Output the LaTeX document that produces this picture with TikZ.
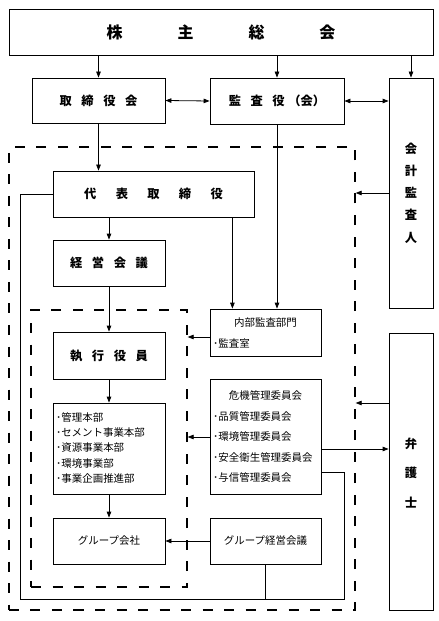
\documentclass[tikz,border=0pt]{standalone}
\usepackage{fontspec}
\setmainfont{Noto Sans CJK JP}
\usetikzlibrary{arrows.meta,calc}
\begin{document}
\begin{tikzpicture}[x=1bp,y=-1bp,
  box/.style={draw, line width=0.8bp, inner sep=0pt, anchor=center},
  dbox/.style={draw, line width=1.3bp, dash pattern=on 10bp off 11.5bp, inner sep=0pt, anchor=center},
  title/.style={font=\fontsize{12.3}{15}\selectfont\bfseries},
  small/.style={font=\fontsize{10.5}{12}\selectfont, inner sep=0pt},
  ln/.style={line width=0.8bp},
  arr/.style={line width=0.8bp, -{Triangle[length=6bp,width=4.5bp]}},
  darr/.style={line width=0.8bp, {Triangle[length=6bp,width=4.5bp]}-{Triangle[length=6bp,width=4.5bp]}}]
\useasboundingbox (0,0) rectangle (439,621);
% dashed frames
\node[dbox, minimum width=346bp, minimum height=463bp] (outer) at (182,378.5) {};
\node[dbox, minimum width=156bp, minimum height=277bp] (inner) at (109,448.5) {};
% boxes
\node[box, minimum width=424bp, minimum height=46bp, font=\fontsize{16}{18}\selectfont\bfseries] (top) at (221,32)
  {株\hspace{3.45em}主\hspace{3.45em}総\hspace{3.45em}会};
\node[box, title, minimum width=133bp, minimum height=45bp] (tor) at (98.5,100.5)
  {取\hspace{.78em}締\hspace{.78em}役\hspace{.78em}会};
\node[box, title, minimum width=134bp, minimum height=46bp] (kan) at (277,101)
  {監\hspace{.78em}査\hspace{.78em}役\hspace{.3em}（会）};
\node[box, minimum width=44bp, minimum height=230bp] (kaikei) at (411,193) {};
\node[align=center, font=\fontsize{12.3}{22.3}\selectfont\bfseries] (kaikeit) at (kaikei.center) {会\\計\\監\\査\\人};
\node[box, minimum width=44bp, minimum height=277bp] (bengo) at (411,471.5) {};
\node[align=center, font=\fontsize{12.3}{30}\selectfont\bfseries] (bengot) at (411,473) {弁\\護\\士};
\node[box, title, minimum width=201bp, minimum height=46bp] (daihyo) at (153.5,194)
  {代\hspace{1.58em}表\hspace{1.58em}取\hspace{1.58em}締\hspace{1.58em}役};
\node[box, title, minimum width=112bp, minimum height=46bp] (keiei) at (109,263)
  {経\hspace{.78em}営\hspace{.78em}会\hspace{.78em}議};
\node[box, title, minimum width=112bp, minimum height=47bp] (shikko) at (109,355.5)
  {執\hspace{.78em}行\hspace{.78em}役\hspace{.78em}員};
\node[box, minimum width=112bp, minimum height=91bp] (list) at (109,448.5) {};
\node[small, anchor=west] (l1) at (56,417) {･管理本部};
\node[small, anchor=west] (l2) at (56,432.5) {･セメント事業本部};
\node[small, anchor=west] (l3) at (56,448) {･資源事業本部};
\node[small, anchor=west] (l4) at (56,463.5) {･環境事業部};
\node[small, anchor=west] (l5) at (56,479) {･事業企画推進部};
\node[box, minimum width=112bp, minimum height=46bp, font=\fontsize{10.5}{12}\selectfont] (group) at (109,541) {グループ会社};
\node[box, minimum width=111bp, minimum height=47bp] (naibu) at (265.5,332.5) {};
\node[small] (n1) at (265.5,323) {内部監査部門};
\node[small, anchor=west] (n2) at (213,343) {･監査室};
\node[box, minimum width=111bp, minimum height=115bp] (kiki) at (265.5,436.5) {};
\node[small] (k0) at (265.5,396) {危機管理委員会};
\node[small, anchor=west] (k1) at (213,416.5) {･品質管理委員会};
\node[small, anchor=west] (k2) at (213,437) {･環境管理委員会};
\node[small, anchor=west] (k3) at (213,457.5) {･安全衛生管理委員会};
\node[small, anchor=west] (k4) at (213,478) {･与信管理委員会};
\node[box, minimum width=111bp, minimum height=46bp, font=\fontsize{10.5}{12}\selectfont] (gkeiei) at (265.5,541) {グループ経営会議};
% connectors
\draw[arr] (top.south -| tor) -- (tor.north);
\draw[arr] (top.south -| kan) -- (kan.north);
\draw[arr] (top.south -| kaikei) -- (kaikei.north);
\draw[darr] (tor.east) -- (kan.west);
\draw[darr] (kan.east) -- (kan.east -| kaikei.west);
\draw[arr] (tor.south) -- (tor.south |- daihyo.north);
\draw[arr] (kan.south) -- (kan.south |- naibu.north);
\coordinate (dr) at ($(daihyo.south east)+(-22,0)$);
\draw[arr] (dr) -- (dr |- naibu.north);
\draw[arr] (daihyo.south -| keiei) -- (keiei.north);
\draw[arr] (keiei.south) -- (shikko.north);
\draw[arr] (shikko.south) -- (list.north);
\draw[arr] (list.south) -- (group.north);
\draw[arr] (gkeiei.west) -- (group.east);
\coordinate (bl) at (20,599);
\coordinate (br) at (344,599);
\draw[ln] (daihyo.west) -- (daihyo.west -| bl) -- (bl) -- (br) -- (br |- 0,472) -- (kiki.east |- 0,472);
\draw[ln] (gkeiei.south) -- (gkeiei.south |- bl);
\draw[arr] (naibu.west |- 0,337) -- (inner.east |- 0,337);
\draw[arr] (kiki.west |- 0,437) -- (inner.east |- 0,437);
\draw[arr] (kaikei.west |- 0,193) -- (outer.east |- 0,193);
\draw[arr] (bengo.west |- 0,403) -- (outer.east |- 0,403);
\draw[arr] (kiki.east |- 0,449) -- (bengo.west |- 0,449);
\end{tikzpicture}
\end{document}
